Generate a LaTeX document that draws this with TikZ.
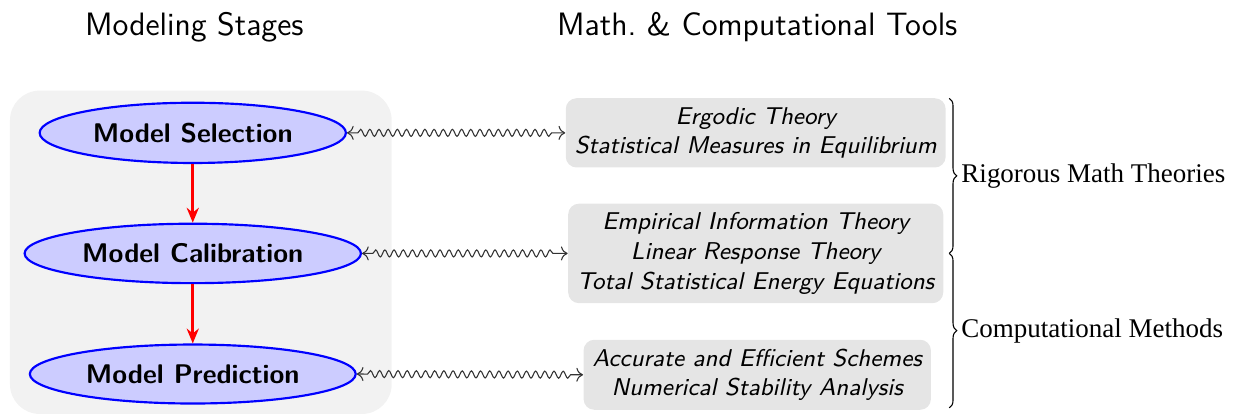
\documentclass[tikz,border=0pt]{standalone}
\usepackage{fontspec}
\newfontfamily\grpfont{Liberation Serif}
\usetikzlibrary{shapes.geometric, decorations.pathmorphing, decorations.pathreplacing, arrows.meta}
\tikzset{
  stage/.style = {
    ellipse, draw=blue, line width=0.8pt, fill=blue!20,
    font=\sffamily\bfseries,
    inner xsep=3.1pt, inner ysep=4.2pt
  },
  tool/.style = {
    rectangle, rounded corners=4pt, fill=gray!20,
    align=center, font=\sffamily\itshape\small
  },
  head/.style = {font=\sffamily\large},
  flow/.style = {-{Stealth[length=5.5pt,width=4.5pt]}, red, line width=1pt},
  wav/.style  = {{To}-{To}, black!80, decorate,
                 decoration={snake, segment length=3.4pt, amplitude=1.3pt,
                             pre length=4pt, post length=4pt}},
  brc/.style  = {decorate, decoration={brace, amplitude=2.8pt}},
  grp/.style  = {font=\grpfont, anchor=west, xshift=1pt}
}

\begin{document}
\begin{tikzpicture}
  \useasboundingbox (0,0) rectangle (16.12,-5.43);

  %% Headings
  \node[head] (hstage) at (2.53,-0.35) {Modeling Stages};
  \node[head] (htool)  at (9.86,-0.35) {Math.\ \& Computational Tools};

  %% Background of the stages
  \fill[gray!10, rounded corners=11pt] (0.13,-1.18) rectangle (5.10,-5.39);

  %% Stages
  \node[stage] (sel) at (2.51,-1.73) {Model Selection};
  \node[stage] (cal) at (2.51,-3.30) {Model Calibration};
  \node[stage] (pre) at (2.51,-4.87) {Model Prediction};

  \draw[flow] (sel) -- (cal);
  \draw[flow] (cal) -- (pre);

  %% Tools
  \node[tool] (erg) at (9.84,-1.73) {Ergodic Theory\\Statistical Measures in Equilibrium};
  \node[tool] (emp) at (9.84,-3.30) {Empirical Information Theory\\Linear Response Theory\\Total Statistical Energy Equations};
  \node[tool] (num) at (9.86,-4.88) {Accurate and Efficient Schemes\\Numerical Stability Analysis};

  \draw[wav] (sel.east) -- (erg.west);
  \draw[wav] (cal.east) -- (emp.west);
  \draw[wav] (pre.east) -- (num.west);

  %% Braces
  \coordinate (bt) at (12.36,-1.28);
  \coordinate (bm) at (12.36,-3.30);
  \coordinate (bb) at (12.36,-5.31);
  \draw[brc] (bt) -- node[grp] (rig) {Rigorous Math Theories} (bm);
  \draw[brc] (bm) -- node[grp] (cmp) {Computational Methods} (bb);
\end{tikzpicture}
\end{document}
